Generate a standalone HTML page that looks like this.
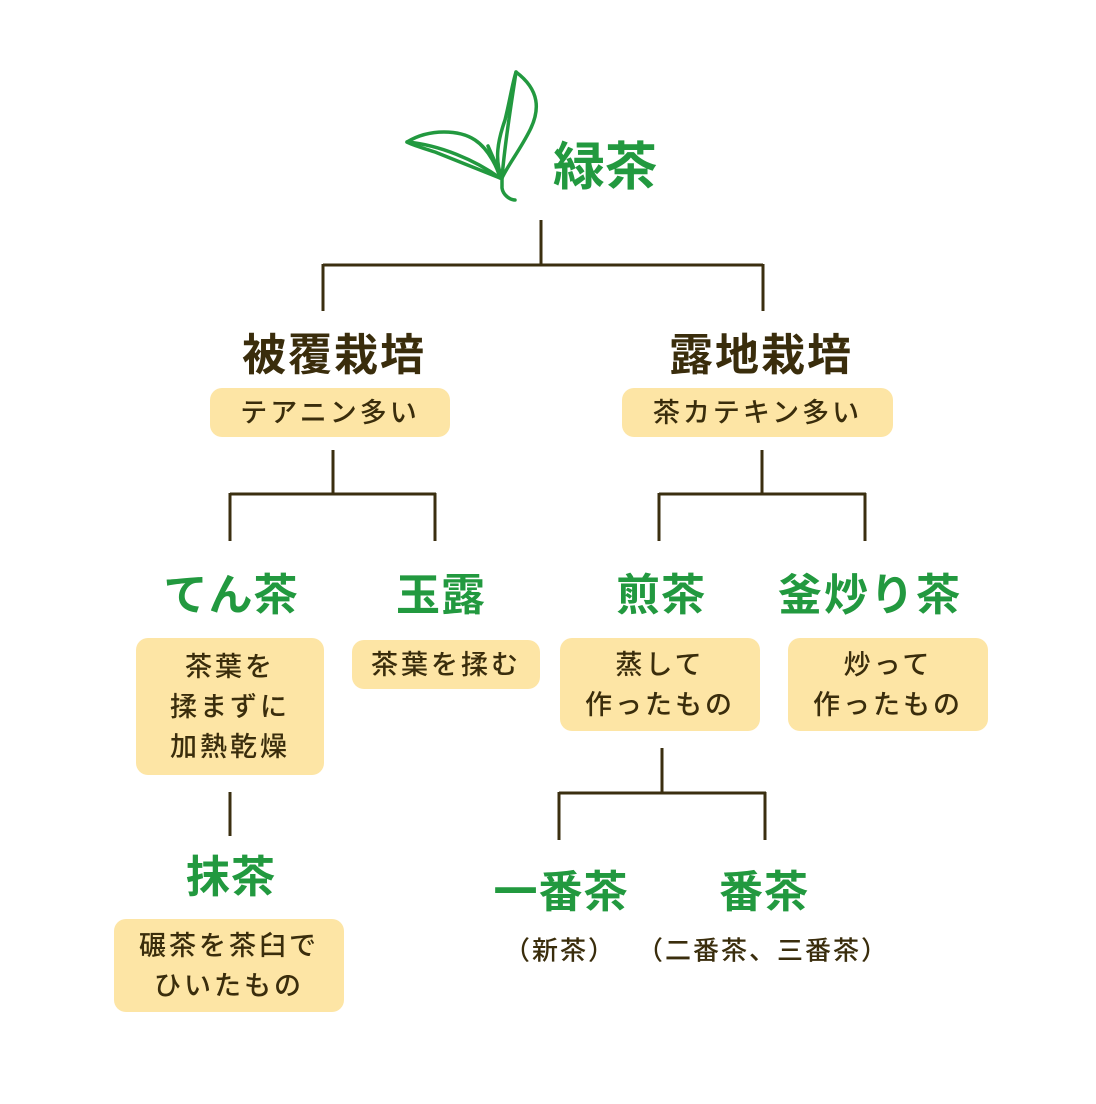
<!DOCTYPE html>
<html><head><meta charset="utf-8"><style>
body{margin:0;width:1096px;height:1104px;background:#fff;position:relative;overflow:hidden;font-family:"Liberation Sans","Noto Sans CJK JP",sans-serif}
.t{position:absolute;transform:translate(-50%,-50%);white-space:nowrap;font-weight:bold;line-height:1}
.g{color:#22993f}
.d{color:#3a2d0c}
.b{position:absolute;background:#fde5a5;border-radius:12px;display:flex;align-items:center;justify-content:center;text-align:center;color:#3a2d0c;font-size:27px;line-height:40px;letter-spacing:3px;font-weight:500}
.s{position:absolute;transform:translate(-50%,-50%);white-space:nowrap;color:#3a2d0c;font-size:26px;letter-spacing:2px;font-weight:500}
</style></head><body>
<svg width="1096" height="1104" style="position:absolute;left:0;top:0">
<g stroke="#3b2f10" stroke-width="3" fill="none">
<path d="M541 220V265M323 265H763M323 264V311M763 264V311"/>
<path d="M333 450V494M230 494H436M230 493V541M435 493V541"/>
<path d="M762 450V494M659 494H866M659 493V541M865 493V541"/>
<path d="M230 792V836"/>
<path d="M662 748V793M559 793H766M559 792V840M765 792V840"/>
</g>
<g stroke="#22993f" stroke-width="3.5" fill="none" stroke-linecap="round" stroke-linejoin="round">
<path d="M516 72C540 90 540 110 530 130C520 150 508 165 502 178C494 160 498 140 505 120C510 100 512 85 516 72Z"/>
<path d="M516 72C512 100 505 140 502 178"/>
<path d="M407 142C430 128 460 130 475 140C490 150 498 170 500 178C480 170 455 160 435 152C420 147 412 145 407 142Z"/>
<path d="M407 142C440 145 475 160 500 178"/>
<path d="M488 146L502 178L502 188C503 195 510 200 515 200"/>
</g>
</svg>
<div class="t g" style="left:605px;top:168px;font-size:52px">緑茶</div>
<div class="t d" style="left:334px;top:356px;font-size:44px;letter-spacing:2px">被覆栽培</div>
<div class="t d" style="left:761px;top:356px;font-size:44px;letter-spacing:2px">露地栽培</div>
<div class="b" style="left:210px;top:388px;width:240px;height:49px">テアニン多い</div>
<div class="b" style="left:622px;top:388px;width:271px;height:49px">茶カテキン多い</div>
<div class="t g" style="left:231px;top:596px;font-size:44px;letter-spacing:1px">てん茶</div>
<div class="t g" style="left:441px;top:596px;font-size:44px;letter-spacing:1px">玉露</div>
<div class="t g" style="left:661px;top:596px;font-size:44px;letter-spacing:1px">煎茶</div>
<div class="t g" style="left:870px;top:596px;font-size:44px;letter-spacing:2px">釜炒り茶</div>
<div class="b" style="left:136px;top:638px;width:188px;height:137px">茶葉を<br>揉まずに<br>加熱乾燥</div>
<div class="b" style="left:352px;top:640px;width:188px;height:49px">茶葉を揉む</div>
<div class="b" style="left:560px;top:638px;width:200px;height:93px">蒸して<br>作ったもの</div>
<div class="b" style="left:788px;top:638px;width:200px;height:93px">炒って<br>作ったもの</div>
<div class="t g" style="left:231px;top:878px;font-size:44px;letter-spacing:1px">抹茶</div>
<div class="b" style="left:114px;top:919px;width:230px;height:93px">碾茶を茶臼で<br>ひいたもの</div>
<div class="t g" style="left:561px;top:893px;font-size:44px;letter-spacing:1px">一番茶</div>
<div class="t g" style="left:764px;top:893px;font-size:44px;letter-spacing:1px">番茶</div>
<div class="s" style="left:560px;top:949px">（新茶）</div>
<div class="s" style="left:763px;top:949px">（二番茶、三番茶）</div>
</body></html>
